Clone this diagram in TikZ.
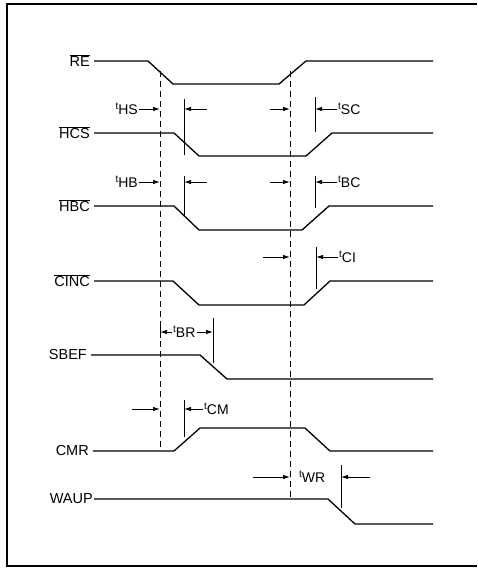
\documentclass[tikz,border=0pt]{standalone}
\usepackage{fontspec}
\setmainfont{Liberation Sans}
\usetikzlibrary{arrows.meta}

\newcommand{\sig}[1]{\fontsize{14.5}{16}\selectfont #1}
\newcommand{\nsig}[1]{\fontsize{14.5}{16}\selectfont$\overline{\hbox{#1}}$}
\newcommand{\tsub}[1]{\raisebox{5pt}{\fontsize{10}{10}\selectfont t}\fontsize{14}{14}\selectfont #1}

\begin{document}
\begin{tikzpicture}[x=1pt, y=-1pt,
	wave/.style={line width=1.3pt, line join=round},
	guide/.style={line width=0.9pt, dash pattern=on 6pt off 4pt},
	tick/.style={line width=1pt},
	dim/.style={line width=0.9pt, -{Latex[length=7pt, width=4.5pt]}},
	lbl/.style={anchor=east, inner sep=1pt},
	tlbl/.style={inner sep=1pt}]
	\useasboundingbox (0,0) rectangle (477,570);
	\draw[line width=1.8pt] (477,4) -- (7,4) -- (7,566) -- (477,566);

	% signal names
	\node[lbl] (re)   at (91, 61)  {\nsig{RE}};
	\node[lbl] (hcs)  at (91, 133) {\nsig{HCS}};
	\node[lbl] (hbc)  at (91, 206) {\nsig{HBC}};
	\node[lbl] (cinc) at (91, 281) {\nsig{CINC}};
	\node[lbl] (sbef) at (88, 355) {\sig{SBEF}};
	\node[lbl] (cmr)  at (90, 451) {\sig{CMR}};
	\node[lbl] (waup) at (94, 499) {\sig{WAUP}};

	% waveforms
	\draw[wave] (re.east) ++(3,0) -- (148,61) -- (173,84) -- (279,84) -- (306,61) -- (433,61);
	\draw[wave] (hcs.east) ++(3,0) -- (174,133) -- (199,156) -- (306,156) -- (332,133) -- (433,133);
	\draw[wave] (hbc.east) ++(3,0) -- (174,206) -- (199,230) -- (302,230) -- (329,206) -- (433,206);
	\draw[wave] (cinc.east) ++(3,0) -- (173,281) -- (199,305) -- (304,305) -- (330,281) -- (433,281);
	\draw[wave] (sbef.east) ++(3,0) -- (200,355) -- (227,379) -- (433,379);
	\draw[wave] (cmr.east) ++(3,0) -- (174,451) -- (200,428) -- (305,428) -- (330,451) -- (433,451);
	\draw[wave] (waup.east) -- (328,499) -- (355,524) -- (433,524);

	% reference lines
	\coordinate (ga) at (160,71);
	\coordinate (gb) at (290,71);
	\draw[guide] (ga) -- (160,451);
	\draw[guide] (gb) -- (290,499);

	% tHS / tSC
	\node[tlbl, anchor=east] (ths) at (139,109) {\tsub{HS}};
	\draw[dim] (ths.east) -- (160,109);
	\draw[tick] (184,99) -- (184,155);
	\draw[dim] (207,109) -- (184,109);
	\draw[dim] (270,109) -- (290,109);
	\draw[tick] (315,97) -- (315,132);
	\node[tlbl, anchor=west] (tsc) at (337,109) {\tsub{SC}};
	\draw[dim] (tsc.west) -- (315,109);

	% tHB / tBC
	\node[tlbl, anchor=east] (thb) at (139,182) {\tsub{HB}};
	\draw[dim] (thb.east) -- (160,182);
	\draw[tick] (184,176) -- (184,215);
	\draw[dim] (207,182) -- (184,182);
	\draw[dim] (270,182) -- (290,182);
	\draw[tick] (315,176) -- (315,208);
	\node[tlbl, anchor=west] (tbc) at (337,182) {\tsub{BC}};
	\draw[dim] (tbc.west) -- (315,182);

	% tCI
	\draw[dim] (263,257) -- (290,257);
	\draw[tick] (316,247) -- (316,289);
	\node[tlbl, anchor=west] (tci) at (338,257) {\tsub{CI}};
	\draw[dim] (tci.west) -- (316,257);

	% tBR
	\node[tlbl, anchor=west] (tbr) at (172,332) {\tsub{BR}};
	\draw[tick] (160,327) -- (160,338);
	\draw[dim] (tbr.west) -- (160,332);
	\draw[tick] (213,318) -- (213,363);
	\draw[dim] (tbr.east) -- (213,332);

	% tCM
	\draw[dim] (132,409) -- (160,409);
	\draw[tick] (184,400) -- (184,437);
	\node[tlbl, anchor=west] (tcm) at (203,409) {\tsub{CM}};
	\draw[dim] (tcm.west) -- (184,409);

	% tWR
	\draw[dim] (253,477) -- (290,477);
	\node[tlbl, anchor=west] (twr) at (298,477) {\tsub{WR}};
	\draw[tick] (341,465) -- (341,508);
	\draw[dim] (370,477) -- (341,477);
\end{tikzpicture}
\end{document}
